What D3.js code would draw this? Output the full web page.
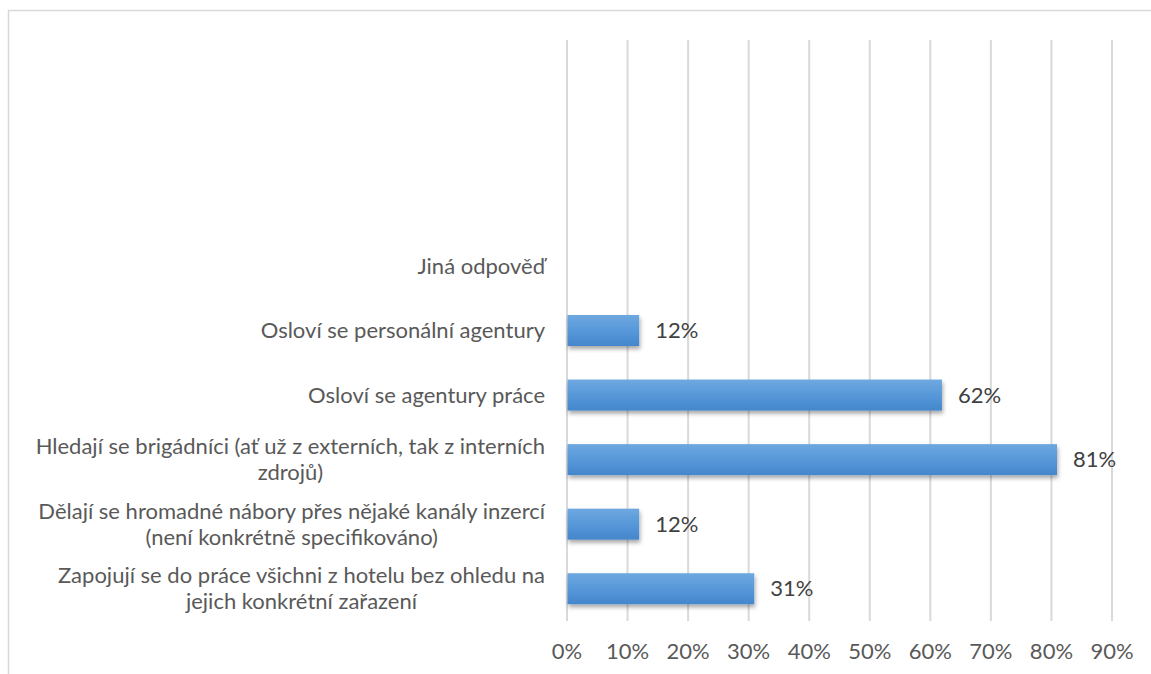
<!DOCTYPE html>
<html>
<head>
<meta charset="utf-8">
<script src="https://cdn.jsdelivr.net/npm/d3@7/dist/d3.min.js"></script>
<style>
  html, body { margin: 0; padding: 0; background: #fff; }
  svg { display: block; }
  text { font-family: Lato, "Open Sans", sans-serif; }
</style>
</head>
<body>
<svg id="chart" width="1151" height="674"></svg>
<script>
// Categories listed bottom to top; the three top slots are unlabeled.
const categories = [
  "Zapojují se do práce všichni z hotelu bez ohledu na jejich konkrétní zařazení",
  "Dělají se hromadné nábory přes nějaké kanály inzercí (není konkrétně specifikováno)",
  "Hledají se brigádníci (ať už z externích, tak z interních zdrojů)",
  "Osloví se agentury práce",
  "Osloví se personální agentury ",
  "Jiná odpověď",
  "",
  "",
  ""
];
const values = [0.31, 0.12, 0.81, 0.62, 0.12, null, null, null, null];
const xTicks = [0, 0.1, 0.2, 0.3, 0.4, 0.5, 0.6, 0.7, 0.8, 0.9];

const svg = d3.select("#chart");
const W = 1151, H = 674;
const FS = 22;

// Outer chart frame
svg.append("rect")
  .attr("x", 8.5).attr("y", 10.5)
  .attr("width", W + 10).attr("height", H + 10)
  .attr("fill", "#fff").attr("stroke", "#d9d9d9").attr("stroke-width", 1.5);

const plot = { left: 566.5, right: 1111.5, top: 40, bottom: 621 };

const x = d3.scaleLinear().domain([0, 0.9]).range([plot.left, plot.right]);
const y = d3.scaleBand()
  .domain(d3.range(categories.length))
  .range([plot.bottom, plot.top])
  .paddingInner(0.52).paddingOuter(0.26);

// Bar gradient and soft shadow
const defs = svg.append("defs");
const grad = defs.append("linearGradient").attr("id", "barFill")
  .attr("x1", 0).attr("y1", 0).attr("x2", 0).attr("y2", 1);
grad.append("stop").attr("offset", "0%").attr("stop-color", "#6ea8e0");
grad.append("stop").attr("offset", "55%").attr("stop-color", "#5596d8");
grad.append("stop").attr("offset", "100%").attr("stop-color", "#4586cc");
const shadow = defs.append("filter").attr("id", "barShadow")
  .attr("x", "-5%").attr("y", "-20%").attr("width", "115%").attr("height", "160%");
shadow.append("feDropShadow").attr("dx", 1).attr("dy", 3).attr("stdDeviation", 2)
  .attr("flood-color", "#000").attr("flood-opacity", 0.35);

// Vertical gridlines from the x axis
const xAxis = d3.axisBottom(x)
  .tickValues(xTicks)
  .tickFormat(d3.format(".0%"))
  .tickSize(-(plot.bottom - plot.top))
  .tickPadding(22);
const gx = svg.append("g")
  .attr("transform", `translate(0,${plot.bottom})`)
  .call(xAxis);
gx.select(".domain").remove();
gx.selectAll(".tick line").attr("stroke", "#d9d9d9").attr("stroke-width", 2);
gx.selectAll(".tick text")
  .attr("fill", "#595959").attr("font-size", FS);

// Bars
const rows = categories.map((c, i) => ({ i, label: c, value: values[i] }));
svg.append("g").selectAll("rect")
  .data(rows.filter(d => d.value != null))
  .join("rect")
  .attr("x", x(0) + 1)
  .attr("y", d => y(d.i))
  .attr("width", d => x(d.value) - x(0) - 1)
  .attr("height", y.bandwidth())
  .attr("fill", "url(#barFill)")
  .attr("filter", "url(#barShadow)");

// Value labels
svg.append("g").selectAll("text")
  .data(rows.filter(d => d.value != null))
  .join("text")
  .attr("x", d => x(d.value) + 16)
  .attr("y", d => y(d.i) + y.bandwidth() / 2)
  .attr("dy", "0.35em")
  .attr("fill", "#404040").attr("font-size", FS)
  .text(d => d3.format(".0%")(d.value));

// Category labels, wrapped and centred within a right-aligned block
const labelRight = 545, maxWidth = 522, lineH = 26;
const gl = svg.append("g");
rows.filter(d => d.label.trim() !== "").forEach(d => {
  const t = gl.append("text")
    .attr("fill", "#595959").attr("font-size", FS);
  const words = d.label.split(" ");
  const lines = [];
  let cur = [];
  const probe = t.append("tspan");
  words.forEach(w => {
    const trial = cur.concat([w]).join(" ");
    probe.text(trial);
    if (probe.node().getComputedTextLength() > maxWidth && cur.length) {
      lines.push(cur.join(" "));
      cur = [w];
    } else cur.push(w);
  });
  lines.push(cur.join(" "));
  probe.remove();
  // measure widest line to centre lines on block
  const widths = lines.map(l => { const s = t.append("tspan").text(l); const w = s.node().getComputedTextLength(); s.remove(); return w; });
  const blockW = d3.max(widths);
  const cx = labelRight - blockW / 2;
  const cy = y(d.i) + y.bandwidth() / 2;
  const y0 = cy - (lines.length - 1) * lineH / 2;
  lines.forEach((l, k) => {
    t.append("tspan")
      .attr("x", cx).attr("y", y0 + k * lineH)
      .attr("dy", "0.35em")
      .attr("text-anchor", "middle")
      .text(l);
  });
});
</script>
</body>
</html>
